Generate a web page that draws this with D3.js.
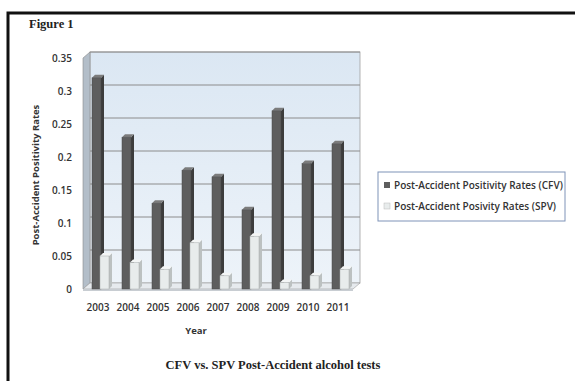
<!DOCTYPE html>
<html>
<head>
<meta charset="utf-8">
<script src="https://cdn.jsdelivr.net/npm/d3@7"></script>
<style>
  body { margin: 0; background: #fff; }
  svg { display: block; }
</style>
</head>
<body>
<div id="chart"></div>
<script>
// chart data
const years = ["2003", "2004", "2005", "2006", "2007", "2008", "2009", "2010", "2011"];
const cfv = [0.32, 0.23, 0.13, 0.18, 0.17, 0.12, 0.27, 0.19, 0.22];
const spv = [0.05, 0.04, 0.03, 0.07, 0.02, 0.08, 0.01, 0.02, 0.03];
const yTicks = [0, 0.05, 0.1, 0.15, 0.2, 0.25, 0.3, 0.35];
const seriesNames = ["Post-Accident Positivity Rates (CFV)", "Post-Accident Posivity Rates (SPV)"];

const width = 575;
const height = 381;
const depthX = 7, depthY = -6; // back wall offset
const bx = 3, by = -3;         // bar depth

const svg = d3.select("#chart").append("svg")
  .attr("width", width)
  .attr("height", height);

const defs = svg.append("defs");
const grad = defs.append("linearGradient").attr("id", "wall")
  .attr("x1", 0).attr("y1", 0).attr("x2", 0).attr("y2", 1);
grad.append("stop").attr("offset", "0%").attr("stop-color", "#dbe7f3");
grad.append("stop").attr("offset", "100%").attr("stop-color", "#edf3f9");

// frame
svg.append("path")
  .attr("d", "M8,381 V13 H575")
  .attr("fill", "none")
  .attr("stroke", "#111")
  .attr("stroke-width", 3);

// scales
const x = d3.scaleBand().domain(years).range([83, 353]);
const y = d3.scaleLinear().domain([0, 0.35]).range([289, 58]);

const plot = svg.append("g");

// back wall
plot.append("rect")
  .attr("x", x.range()[0] + depthX)
  .attr("y", y(0.35) + depthY)
  .attr("width", x.range()[1] - x.range()[0])
  .attr("height", y(0) - y(0.35))
  .attr("fill", "url(#wall)")
  .attr("stroke", "#a0a0a0")
  .attr("stroke-width", 0.8);

// left wall
plot.append("path")
  .attr("d", `M${x.range()[0]},${y(0.35)} L${x.range()[0] + depthX},${y(0.35) + depthY} V${y(0) + depthY} L${x.range()[0]},${y(0)} Z`)
  .attr("fill", "#b3bec9")
  .attr("stroke", "#8a8a8a")
  .attr("stroke-width", 0.6);

// gridlines on back wall
plot.append("g").selectAll("line")
  .data(yTicks.slice(1))
  .join("line")
  .attr("x1", x.range()[0] + depthX)
  .attr("x2", x.range()[1] + depthX)
  .attr("y1", d => y(d) + depthY)
  .attr("y2", d => y(d) + depthY)
  .attr("stroke", "#8c8c8c")
  .attr("stroke-width", 1);

// floor
plot.append("path")
  .attr("d", `M${x.range()[0]},${y(0)} L${x.range()[0] + depthX},${y(0) + depthY} H${x.range()[1] + depthX} L${x.range()[1]},${y(0)} Z`)
  .attr("fill", "#e6eaee")
  .attr("stroke", "#9a9a9a")
  .attr("stroke-width", 0.6);
plot.append("rect")
  .attr("x", x.range()[0]).attr("y", y(0))
  .attr("width", x.range()[1] - x.range()[0]).attr("height", 2)
  .attr("fill", "#c8cdd2");

// bars
const barW = 9;
function drawBar(g, x0, v, front, side, top, stroke) {
  const y0 = y(0), y1 = y(v);
  g.append("path")
    .attr("d", `M${x0 + barW},${y1} L${x0 + barW + bx},${y1 + by} V${y0 + by} L${x0 + barW},${y0} Z`)
    .attr("fill", side);
  g.append("path")
    .attr("d", `M${x0},${y1} L${x0 + bx},${y1 + by} H${x0 + barW + bx} L${x0 + barW},${y1} Z`)
    .attr("fill", top);
  g.append("rect")
    .attr("x", x0).attr("y", y1)
    .attr("width", barW).attr("height", y0 - y1)
    .attr("fill", front)
    .attr("stroke", stroke).attr("stroke-width", 0.5);
}

const bars = plot.append("g");
years.forEach((yr, i) => {
  const left = x(yr) + 9;
  drawBar(bars, left, cfv[i], "#5e5e5e", "#3c3c3c", "#7c7c7c", "#4a4a4a");
  drawBar(bars, left + 8, spv[i], "#e8ecec", "#bcc1c1", "#f4f6f6", "#a8adad");
});

// y axis labels
const tickFont = "'Open Sans', sans-serif";
svg.append("g").selectAll("text")
  .data(yTicks)
  .join("text")
  .attr("x", 72)
  .attr("y", d => y(d) + 3.5)
  .attr("text-anchor", "end")
  .attr("font-family", tickFont)
  .attr("font-size", 10)
  .attr("font-weight", 600)
  .attr("fill", "#333")
  .text(d => d === 0 ? "0" : d3.format(".2~f")(d));

// x axis labels
svg.append("g").selectAll("text")
  .data(years)
  .join("text")
  .attr("x", d => x(d) + x.bandwidth() / 2)
  .attr("y", 311)
  .attr("text-anchor", "middle")
  .attr("font-family", tickFont)
  .attr("font-size", 10)
  .attr("font-weight", 600)
  .attr("fill", "#333")
  .text(d => d);

// axis titles
svg.append("text")
  .attr("transform", "translate(39,175) rotate(-90)")
  .attr("text-anchor", "middle")
  .attr("font-family", tickFont)
  .attr("font-size", 9.5)
  .attr("font-weight", 700)
  .attr("fill", "#333")
  .text("Post-Accident Positivity Rates");

svg.append("text")
  .attr("x", 196).attr("y", 334)
  .attr("text-anchor", "middle")
  .attr("font-family", tickFont)
  .attr("font-size", 9.5)
  .attr("font-weight", 700)
  .attr("fill", "#333")
  .text("Year");

// legend
const legend = svg.append("g").attr("transform", "translate(378,172)");
legend.append("rect")
  .attr("width", 187).attr("height", 49)
  .attr("fill", "#fff")
  .attr("stroke", "#7f93b8")
  .attr("stroke-width", 1);
const legColors = ["#5e5e5e", "#e8ecec"];
seriesNames.forEach((name, i) => {
  const ly = 14 + i * 21;
  legend.append("rect")
    .attr("x", 6).attr("y", ly - 4)
    .attr("width", 6).attr("height", 6)
    .attr("fill", legColors[i])
    .attr("stroke", i ? "#bbb" : "none")
    .attr("stroke-width", 0.5);
  legend.append("text")
    .attr("x", 16).attr("y", ly + 3)
    .attr("font-family", tickFont)
    .attr("font-size", 10)
    .attr("font-weight", 600)
    .attr("fill", "#333")
    .text(name);
});

// figure label and caption
svg.append("text")
  .attr("x", 29).attr("y", 28)
  .attr("font-family", "'Liberation Serif', serif")
  .attr("font-size", 12.5)
  .attr("font-weight", 700)
  .attr("fill", "#222")
  .text("Figure 1");

svg.append("text")
  .attr("x", 273).attr("y", 369)
  .attr("text-anchor", "middle")
  .attr("font-family", "'Liberation Serif', serif")
  .attr("font-size", 12.5)
  .attr("font-weight", 700)
  .attr("fill", "#222")
  .text("CFV vs. SPV Post-Accident alcohol tests");
</script>
</body>
</html>
